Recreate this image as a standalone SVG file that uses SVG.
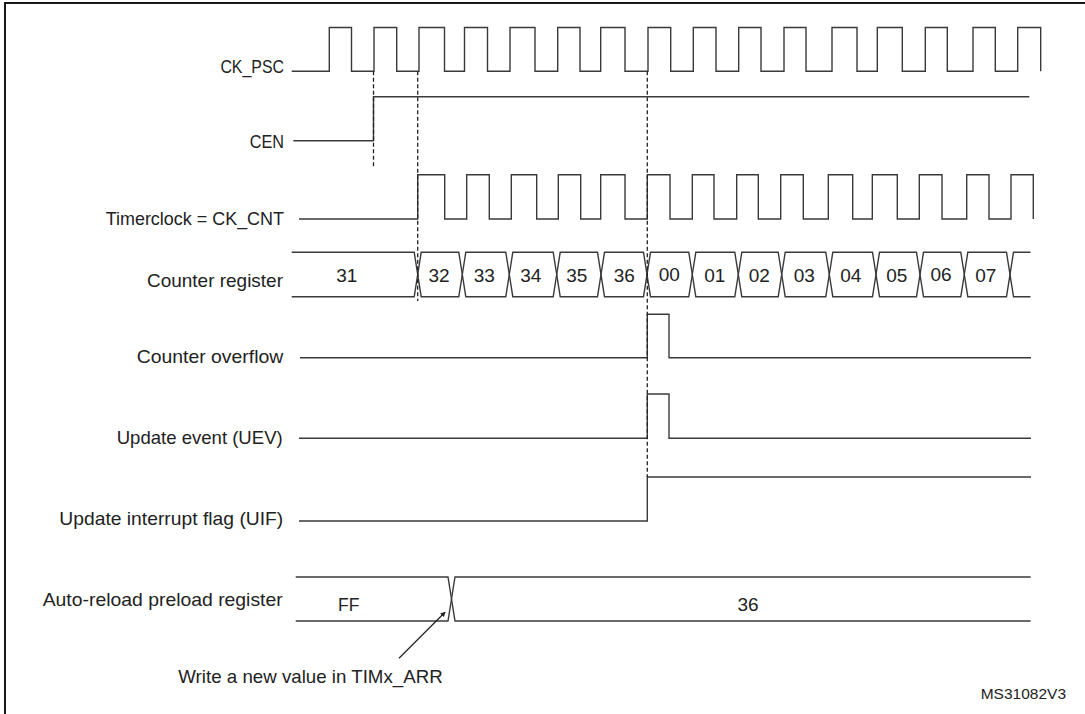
<svg xmlns="http://www.w3.org/2000/svg" width="1085" height="714" viewBox="0 0 1085 714">
<style>
.bg{fill:#ffffff}
.frame{fill:none;stroke:#1a1a1a;stroke-width:2}
.sig{fill:none;stroke:#3a3a3a;stroke-width:1.4;stroke-linejoin:miter}
.dash{fill:none;stroke:#222;stroke-width:1.3;stroke-dasharray:4 2.5}
.lbl{font-family:"Liberation Sans",Arial,sans-serif;font-size:18.5px;fill:#222;text-anchor:end}
.val{font-family:"Liberation Sans",Arial,sans-serif;font-size:19px;fill:#222;text-anchor:middle}
.note{font-family:"Liberation Sans",Arial,sans-serif;font-size:18.5px;fill:#222}
.code{font-family:"Liberation Sans",Arial,sans-serif;font-size:15.5px;fill:#222;text-anchor:end}
</style>
<defs>
<marker id="ah" viewBox="0 0 6 6" refX="5" refY="3" markerWidth="4" markerHeight="4" orient="auto">
<path d="M0,0 L6,3 L0,6 Z" fill="#222"/>
</marker>
</defs>
<rect class="bg" x="0" y="0" width="1085" height="714"/>
<rect class="frame" x="5" y="3" width="1095" height="730"/>

<g id="ck_psc">
<text class="lbl" x="284" y="72.5" textLength="63.6" lengthAdjust="spacingAndGlyphs">CK_PSC</text>
<path class="sig" d="M291.7 71.3 H329.3 V27.5 H351.5 V71.3 H374 V27.5 H396.7 V71.3 H419 V27.5 H444.5 V71.3 H464.5 V27.5 H487.5 V71.3 H510 V27.5 H535 V71.3 H557.7 V27.5 H580 V71.3 H600.7 V27.5 H625 V71.3 H648 V27.5 H670.7 V71.3 H693.3 V27.5 H716 V71.3 H738.7 V27.5 H761 V71.3 H784 V27.5 H806 V71.3 H832 V27.5 H857 V71.3 H877.3 V27.5 H902.3 V71.3 H925.3 V27.5 H947.3 V71.3 H973 V27.5 H995.3 V71.3 H1017.7 V27.5 H1040.7 V71.3"/>
</g>

<g id="cen">
<text class="lbl" x="284" y="148" textLength="34.3" lengthAdjust="spacingAndGlyphs">CEN</text>
<path class="sig" d="M293.3 140.7 H373.5 V96.7 H1029.3"/>
</g>

<g id="timerclock">
<text class="lbl" x="284" y="225" textLength="178.3" lengthAdjust="spacingAndGlyphs">Timerclock = CK_CNT</text>
<path class="sig" d="M299 219 H417.7 V174.7 H444.7 V219 H466.7 V174.7 H489.3 V219 H511.3 V174.7 H536.7 V219 H558.3 V174.7 H580.7 V219 H600.7 V174.7 H625 V219 H647.3 V174.7 H670 V219 H692.3 V174.7 H714 V219 H736.7 V174.7 H758.3 V219 H780.7 V174.7 H803.3 V219 H828.3 V174.7 H852.7 V219 H872.3 V174.7 H897.3 V219 H919.3 V174.7 H942 V219 H966.7 V174.7 H989 V219 H1011 V174.7 H1033.3 V219"/>
</g>

<g id="counter_register">
<text class="lbl" x="283" y="286.5" textLength="136" lengthAdjust="spacingAndGlyphs">Counter register</text>
<path class="sig" d="M291.7 252.3 H414.2 L417.7 274.5 L414.2 296.7 H291.7"/>
<path class="sig" d="M417.7 274.5 L421.2 252.3 H458.8 L462.3 274.5 L458.8 296.7 H421.2 Z"/>
<path class="sig" d="M462.3 274.5 L465.8 252.3 H505.8 L509.3 274.5 L505.8 296.7 H465.8 Z"/>
<path class="sig" d="M509.3 274.5 L512.8 252.3 H553.2 L556.7 274.5 L553.2 296.7 H512.8 Z"/>
<path class="sig" d="M556.7 274.5 L560.2 252.3 H597.5 L601 274.5 L597.5 296.7 H560.2 Z"/>
<path class="sig" d="M601 274.5 L604.5 252.3 H643.5 L647 274.5 L643.5 296.7 H604.5 Z"/>
<path class="sig" d="M647 274.5 L650.5 252.3 H688.8 L692.3 274.5 L688.8 296.7 H650.5 Z"/>
<path class="sig" d="M692.3 274.5 L695.8 252.3 H734.8 L738.3 274.5 L734.8 296.7 H695.8 Z"/>
<path class="sig" d="M738.3 274.5 L741.8 252.3 H778.2 L781.7 274.5 L778.2 296.7 H741.8 Z"/>
<path class="sig" d="M781.7 274.5 L785.2 252.3 H825.8 L829.3 274.5 L825.8 296.7 H785.2 Z"/>
<path class="sig" d="M829.3 274.5 L832.8 252.3 H872.5 L876 274.5 L872.5 296.7 H832.8 Z"/>
<path class="sig" d="M876 274.5 L879.5 252.3 H916.5 L920 274.5 L916.5 296.7 H879.5 Z"/>
<path class="sig" d="M920 274.5 L923.5 252.3 H960.8 L964.3 274.5 L960.8 296.7 H923.5 Z"/>
<path class="sig" d="M964.3 274.5 L967.8 252.3 H1006.5 L1010 274.5 L1006.5 296.7 H967.8 Z"/>
<path class="sig" d="M1030.5 252.3 H1013.5 L1010 274.5 L1013.5 296.7 H1030.5"/>
<text class="val" x="346.7" y="281.5">31</text>
<text class="val" x="439" y="281.5">32</text>
<text class="val" x="484.3" y="281.5">33</text>
<text class="val" x="530.7" y="281.5">34</text>
<text class="val" x="576.7" y="281.5">35</text>
<text class="val" x="624.3" y="281.5">36</text>
<text class="val" x="669.3" y="281">00</text>
<text class="val" x="714.7" y="281.5">01</text>
<text class="val" x="759.3" y="281.5">02</text>
<text class="val" x="804.3" y="281.5">03</text>
<text class="val" x="850.7" y="281.5">04</text>
<text class="val" x="896.7" y="281.5">05</text>
<text class="val" x="941" y="281">06</text>
<text class="val" x="985.7" y="281.5">07</text>
</g>

<g id="counter_overflow">
<text class="lbl" x="283.3" y="363.3" textLength="146.6" lengthAdjust="spacingAndGlyphs">Counter overflow</text>
<path class="sig" d="M300 357.7 H647.3 V314.3 H669 V357.7 H1031"/>
</g>

<g id="update_event">
<text class="lbl" x="282.7" y="444" textLength="166" lengthAdjust="spacingAndGlyphs">Update event (UEV)</text>
<path class="sig" d="M299 438.3 H647.3 V394 H669 V438.3 H1031"/>
</g>

<g id="update_interrupt_flag">
<text class="lbl" x="283.3" y="525" textLength="224" lengthAdjust="spacingAndGlyphs">Update interrupt flag (UIF)</text>
<path class="sig" d="M299 521 H647.3 V477 H1031"/>
</g>

<g id="auto_reload_preload_register">
<text class="lbl" x="282.7" y="606" textLength="240" lengthAdjust="spacingAndGlyphs">Auto-reload preload register</text>
<path class="sig" d="M295.7 577 H448 L451.5 599 L448 621 H295.7"/>
<path class="sig" d="M1030.7 577 H455 L451.5 599 L455 621 H1030.7"/>
<text class="val" x="348.7" y="610.7" style="font-size:17.5px">FF</text>
<text class="val" x="748" y="610.7">36</text>
</g>

<g id="write_note">
<text class="note" x="178.3" y="683.3" textLength="264.4" lengthAdjust="spacingAndGlyphs">Write a new value in TIMx_ARR</text>
</g>

<g id="connectors">
<line class="dash" x1="373.5" y1="71.3" x2="373.5" y2="168"/>
<line class="dash" x1="417.7" y1="71.3" x2="417.7" y2="301"/>
<line class="dash" x1="647.3" y1="71.3" x2="647.3" y2="477"/>
<line x1="399" y1="658.3" x2="445" y2="612.3" stroke="#222" stroke-width="1.3" marker-end="url(#ah)"/>
</g>

<text class="code" x="1066" y="699.3">MS31082V3</text>
</svg>
